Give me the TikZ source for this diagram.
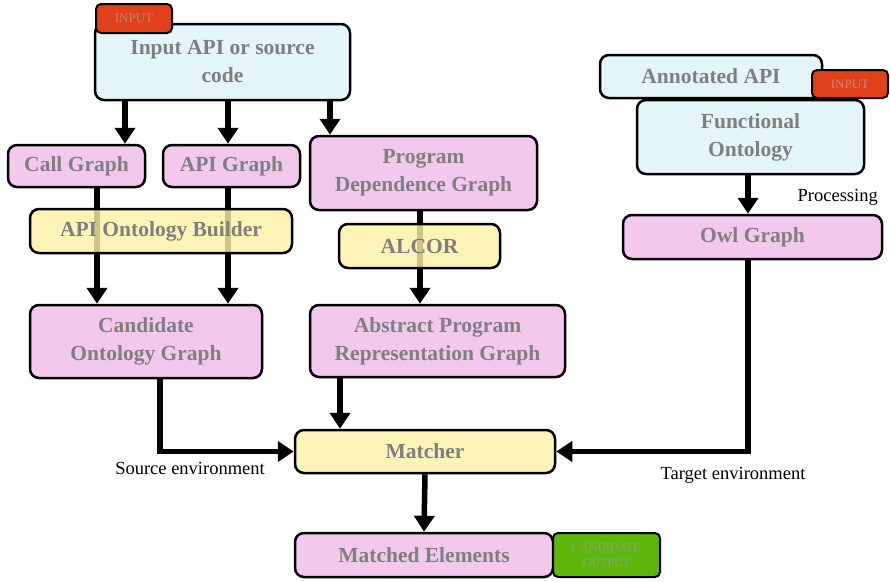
\documentclass[tikz,border=0pt]{standalone}
\usepackage{fontspec}
\setmainfont{Liberation Serif}
\usetikzlibrary{arrows.meta}
\definecolor{pinkf}{HTML}{F2C8EC}
\definecolor{cyanf}{HTML}{E3F5F8}
\definecolor{yelf}{HTML}{FBF2A6}
\definecolor{redf}{HTML}{E0401A}
\definecolor{greenf}{HTML}{5DB70A}
\definecolor{txtgray}{HTML}{7F7F7F}
\definecolor{tagred}{HTML}{C08A80}
\definecolor{taggreen}{HTML}{8EA27A}
\pgfdeclarelayer{bg}\pgfsetlayers{bg,main}
\begin{document}
\begin{tikzpicture}[x=1pt,y=-1pt,
 box/.style={draw=black, line width=2.5pt, rounded corners=9pt, font=\fontsize{21.5}{28}\selectfont\bfseries, text=txtgray, align=center, inner sep=0pt},
 pinkbox/.style={box, fill=pinkf},
 cyanbox/.style={box, fill=cyanf},
 yelbox/.style={box, fill=yelf, fill opacity=0.82, text opacity=1},
 tagbox/.style={draw=black, line width=2pt, rounded corners=5pt, inner sep=0pt, align=center},
 redtag/.style={tagbox, fill=redf, text=tagred, font=\fontsize{13}{14}\selectfont},
 greentag/.style={tagbox, fill=greenf, text=taggreen, font=\fontsize{12}{15}\selectfont},
 conn/.style={line width=5.5pt, -{Triangle[width=20pt,length=16pt]}},
 lbl/.style={font=\fontsize{18.5}{20}\selectfont, text=black, inner sep=0pt},
 sz/.style 2 args={minimum width=#1pt, minimum height=#2pt}]
\useasboundingbox (0,0) rectangle (890,581);

% left input
\node[cyanbox, sz={255}{76}] (inbox) at (222.5,62) {Input API or source\\code};
\node[redtag, sz={76}{29}] (intag) at (134,18.5) {INPUT};

\node[pinkbox, sz={137}{42}] (call) at (76.5,166) {Call Graph};
\node[pinkbox, sz={137}{42}] (apig) at (231.5,166) {API Graph};
\node[pinkbox, sz={227}{74}] (pdg) at (423.5,173) {Program\\Dependence Graph};
\node[yelbox, sz={262}{44}] (aob) at (161,231) {API Ontology Builder};
\node[yelbox, sz={161}{44}] (alcor) at (419.5,246) {ALCOR};
\node[pinkbox, sz={232}{73}] (cog) at (146,341.5) {Candidate\\Ontology Graph};
\node[pinkbox, sz={255}{72}] (apr) at (437.5,341) {Abstract Program\\Representation Graph};
\node[yelbox, sz={260}{43}] (matcher) at (425,451.5) {Matcher};
\node[pinkbox, sz={258}{44}] (matched) at (424,555) {Matched Elements};
\node[greentag, sz={107}{44}] (candtag) at (606.5,555) {CANDIDATE\\OUTPUT};

% right input
\node[cyanbox, sz={222}{43}] (annot) at (711,76.5) {Annotated API};
\node[redtag, sz={76}{28}] (antag) at (850,84) {INPUT};
\node[cyanbox, sz={227}{74}] (func) at (750.5,137) {Functional\\Ontology};
\node[pinkbox, sz={259}{44}] (owl) at (752.5,237) {Owl Graph};

\node[lbl, anchor=east] (proc) at (878,197) {Processing};
\node[lbl] (srcenv) at (190,468) {Source environment};
\node[lbl] (tgtenv) at (733,475) {Target environment};

\begin{pgfonlayer}{bg}
\draw[conn] (inbox.south -| 125,0) -- (call.north -| 125,0);
\draw[conn] (inbox.south -| 228,0) -- (apig.north -| 228,0);
\draw[conn] (inbox.south -| 330,0) -- (pdg.north -| 330,0);
\draw[conn] (call.south -| 97,0) -- (cog.north -| 97,0);
\draw[conn] (apig.south -| 228,0) -- (cog.north -| 228,0);
\draw[conn] (pdg.south -| 420,0) -- (apr.north -| 420,0);
\draw[conn] (cog.south -| 160,0) |- (matcher.west);
\draw[conn] (apr.south -| 340,0) -- (matcher.north -| 340,0);
\draw[conn] (func.south -| 748,0) -- (owl.north -| 748,0);
\draw[conn] (owl.south -| 748,0) |- (matcher.east);
\draw[conn] (matcher.south) -- (matched.north);
\end{pgfonlayer}
\end{tikzpicture}
\end{document}
